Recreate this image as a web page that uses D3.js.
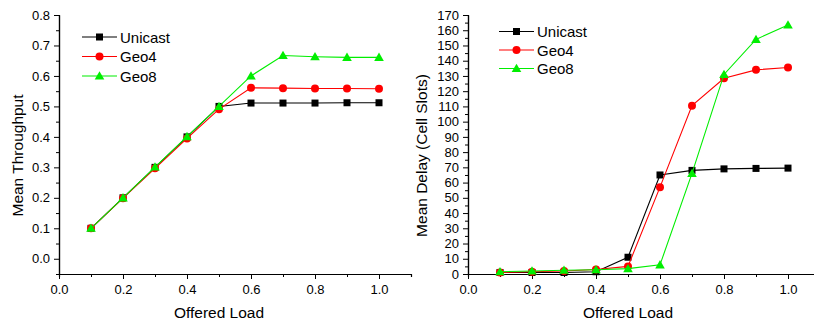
<!DOCTYPE html>
<html lang="en">
<head>
<meta charset="UTF-8">
<title>Throughput and delay</title>
<style>
    body { margin: 0; background: #fff; }
    svg { font-family: "Liberation Sans", Arial, sans-serif; }
    .domain, .tick line { stroke: #000; }
    .tick text { font-size: 13px; fill: #000; }
    .title { font-size: 15.5px; fill: #000; }
    .legend text { font-size: 15px; fill: #000; }
</style>
</head>
<body>
<svg id="chart" width="814" height="325"></svg>
<script src="https://cdn.jsdelivr.net/npm/d3@7"></script>
<script>

const load = [0.1, 0.2, 0.3, 0.4, 0.5, 0.6, 0.7, 0.8, 0.9, 1.0]
const seriesNames = ["Unicast", "Geo4", "Geo8"]
const seriesColors = ["#000000", "#ff0000", "#00ee00"]

const throughputUnicast = [0.1, 0.2, 0.3, 0.4, 0.5, 0.511, 0.511, 0.511, 0.512, 0.512]
const throughputGeo4 = [0.1, 0.199, 0.297, 0.395, 0.491, 0.561, 0.56, 0.559, 0.559, 0.558]
const throughputGeo8 = [0.1, 0.2, 0.301, 0.401, 0.5, 0.6, 0.667, 0.663, 0.661, 0.661]

const delayUnicast = [1, 1, 1, 1.5, 11, 65, 68, 69, 69.3, 69.5]
const delayGeo4 = [1, 1.5, 2, 3, 5, 57, 110.5, 128.5, 134, 135.5]
const delayGeo8 = [1.5, 2, 2.5, 2.8, 3.5, 6, 66, 131, 154, 163.5]

const xTicks = [0.0, 0.2, 0.4, 0.6, 0.8, 1.0]
const throughputTicks = [0.0, 0.1, 0.2, 0.3, 0.4, 0.5, 0.6, 0.7, 0.8]
const delayTicks = d3.range(0, 171, 10)

let svg = d3.select("#chart")

function drawPanel(opt) {
    let g = svg.append("g").attr("transform", `translate(${opt.left},${opt.top})`)
    let w = opt.width, h = opt.height

    let x = d3.scaleLinear().domain([0, 1.1]).range([0, w])
    let y = d3.scaleLinear().domain(opt.yDomain).range([h, 0])

    // minor ticks first, then major
    g.append("g").attr("transform", `translate(0,${h})`)
        .call(d3.axisBottom(x).tickValues(d3.range(0.1, 1.05, 0.2)).tickSize(3).tickFormat(""))
    g.append("g").attr("transform", `translate(0,${h})`)
        .call(d3.axisBottom(x).tickValues(xTicks).tickSize(5).tickSizeOuter(0).tickPadding(6).tickFormat(d3.format(".1f")))

    g.append("g")
        .call(d3.axisLeft(y).tickValues(opt.yMinor).tickSize(3).tickFormat(""))
    g.append("g")
        .call(d3.axisLeft(y).tickValues(opt.yTicks).tickSize(5).tickSizeOuter(0).tickPadding(4).tickFormat(opt.yFormat))

    g.selectAll(".domain").attr("stroke-width", 1.2)

    let line = d3.line().x((d, i) => x(load[i])).y(d => y(d))

    opt.series.forEach((vals, k) => {
        let col = seriesColors[k]
        g.append("path").datum(vals)
            .attr("d", line).attr("fill", "none")
            .attr("stroke", col).attr("stroke-width", 1.1)
        let pts = g.append("g")
        vals.forEach((v, i) => drawMarker(pts, k, x(load[i]), y(v)))
    })

    // legend
    let lg = g.append("g").attr("class", "legend")
    seriesNames.forEach((name, k) => {
        let ly = opt.legendY + k * opt.legendStep
        lg.append("line").attr("x1", opt.legendX).attr("x2", opt.legendX + 35)
            .attr("y1", ly).attr("y2", ly).attr("stroke", seriesColors[k]).attr("stroke-width", 1.1)
        drawMarker(lg, k, opt.legendX + 17.5, ly)
        lg.append("text").attr("x", opt.legendX + 38).attr("y", ly + 5.5).text(name)
    })

    g.append("text").attr("class", "title")
        .attr("x", x(0.5)).attr("y", h + 44)
        .attr("text-anchor", "middle").text("Offered Load")
    g.append("text").attr("class", "title")
        .attr("transform", `translate(${opt.yTitleX},${h / 2 + 11}) rotate(-90)`)
        .attr("text-anchor", "middle").text(opt.yTitle)
}

function drawMarker(parent, k, cx, cy) {
    let col = seriesColors[k]
    if (k === 0) {
        parent.append("rect").attr("x", cx - 3.5).attr("y", cy - 3.5)
            .attr("width", 7).attr("height", 7).attr("fill", col)
    } else if (k === 1) {
        parent.append("circle").attr("cx", cx).attr("cy", cy).attr("r", 4).attr("fill", col)
    } else {
        parent.append("path")
            .attr("d", d3.symbol(d3.symbolTriangle, 40)())
            .attr("transform", `translate(${cx},${cy + 0.8})`).attr("fill", col)
    }
}

drawPanel({
    left: 59, top: 15, width: 352, height: 259,
    yDomain: [-0.05, 0.8],
    yTicks: throughputTicks,
    yMinor: d3.range(-0.05, 0.8, 0.1),
    yFormat: d3.format(".1f"),
    yTitle: "Mean Throughput",
    yTitleX: -36,
    series: [throughputUnicast, throughputGeo4, throughputGeo8],
    legendX: 23, legendY: 22, legendStep: 19.5
})

drawPanel({
    left: 468, top: 15, width: 352, height: 259,
    yDomain: [0, 170],
    yTicks: delayTicks,
    yMinor: d3.range(5, 170, 10),
    yFormat: d3.format("d"),
    yTitle: "Mean Delay (Cell Slots)",
    yTitleX: -41,
    series: [delayUnicast, delayGeo4, delayGeo8],
    legendX: 31, legendY: 16.5, legendStep: 18.5
})

</script>
</body>
</html>
